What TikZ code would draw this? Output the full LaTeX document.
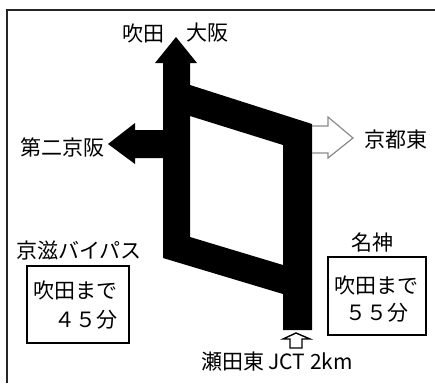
\documentclass[tikz,border=0pt]{standalone}
\usepackage{fontspec}
\newfontfamily\jp{Noto Sans CJK JP}
\begin{document}
\begin{tikzpicture}[x=1bp,y=-1bp,
  lbl/.style={inner sep=0pt,font=\jp\fontsize{21bp}{25bp}\selectfont},
  infobox/.style={draw=black,line width=1.3bp,minimum width=102bp,minimum height=77bp,inner sep=0pt},
  framebar/.style={draw=black!85,line width=1.5bp},
  road/.style={fill=black,even odd rule},
  exitarrow/.style={draw=black!45,line width=1.2bp,line join=miter},
  startarrow/.style={draw=black,line width=1.4bp,line join=miter}]
\useasboundingbox (0,0) rectangle (435,383);
% frame
\draw[framebar] (7,383) -- (7,10) -- (435,10);
% road shape
\fill[road] (176,37) -- (197,63) -- (190,63) -- (190,85) -- (312,124) -- (312,330)
  -- (283,330) -- (283,294) -- (163,258) -- (163,158) -- (135,158) -- (135,164)
  -- (108,144) -- (135,123) -- (135,130) -- (163,130) -- (163,63) -- (155,63) -- cycle
  (190,116) -- (283,145) -- (283,265) -- (190,237) -- cycle;
% outlined exit arrow to 京都東
\draw[exitarrow] (312,126) -- (328,126) -- (328,117) -- (353,138) -- (328,158) -- (328,153) -- (312,153);
% start arrow
\draw[startarrow] (296,333) -- (310,339) -- (302,339) -- (302,348) -- (290,348) -- (290,339) -- (283,339) -- cycle;
% labels
\node[lbl] (suita) at (143,33) {吹田};
\node[lbl] (osaka) at (207,33) {大阪};
\node[lbl] (daini) at (62,147) {第二京阪};
\node[lbl] (kyotohigashi) at (396,140) {京都東};
\node[lbl] (keiji) at (79,250) {京滋バイパス};
\node[lbl] (meishin) at (372,242) {名神};
\node[lbl] (seta) at (277,362) {瀬田東 JCT 2km};
% boxes
\node[infobox] (boxl) at (78,304.5) {};
\node[lbl,anchor=west] (boxl1) at (33,290) {吹田まで};
\node[lbl,anchor=west] (boxl2) at (33,320) {　４５分};
\node[infobox,minimum width=98bp,minimum height=78bp] (boxr) at (377,296) {};
\node[lbl] (boxr1) at (376,285) {吹田まで};
\node[lbl] (boxr2) at (377,313) {５５分};
\end{tikzpicture}
\end{document}
